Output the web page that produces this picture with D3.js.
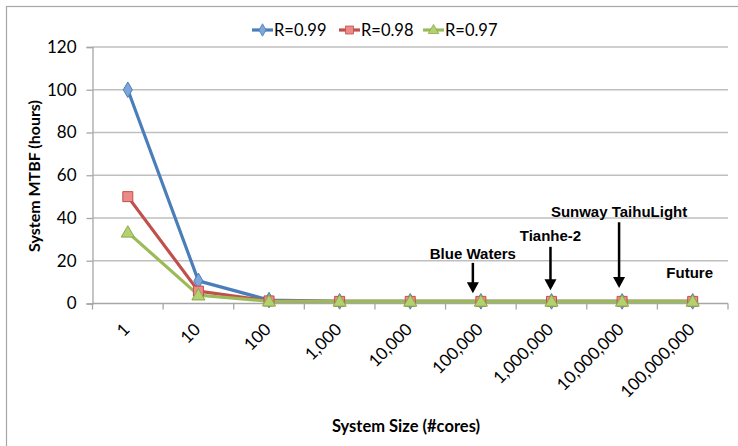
<!DOCTYPE html>
<html>
<head>
<meta charset="utf-8">
<script src="https://cdn.jsdelivr.net/npm/d3@7"></script>
<style>
  body { margin: 0; background: #fff; }
  svg { display: block; }
</style>
</head>
<body>
<svg id="chart" width="738" height="446"></svg>
<script>
// categories + series
const sizes = ['1', '10', '100', '1,000', '10,000', '100,000', '1,000,000', '10,000,000', '100,000,000'];
const r099 = [100, 10.6, 1.6, 1, 1, 1, 1, 1, 1];
const r098 = [50, 5.8, 1.2, 1, 1, 1, 1, 1, 1];
const r097 = [33.3, 3.9, 1.05, 1, 1, 1, 1, 1, 1];
const yTicks = [0, 20, 40, 60, 80, 100, 120];

// machines called out on the chart (category, label)
const callouts = [
  { cat: '100,000', label: 'Blue Waters', dx: -8, textY: 20.8, from: 19, to: 4.8 },
  { cat: '1,000,000', label: 'Tianhe-2', dx: -1, textY: 29.3, from: 26.5, to: 6.2 },
  { cat: '10,000,000', label: 'Sunway TaihuLight', dx: -3, textY: 40.6, from: 38, to: 7.2 },
  { cat: '100,000,000', label: 'Future', dx: -3, textY: 12 }
];

const series = [
  { name: 'R=0.99', values: r099, line: '#4a7ebb', fill: '#7fa6d8', stroke: '#4a7ebb', shape: 'diamond' },
  { name: 'R=0.98', values: r098, line: '#c0504d', fill: '#ec8a88', stroke: '#c0504d', shape: 'square' },
  { name: 'R=0.97', values: r097, line: '#9bbb59', fill: '#b3d26f', stroke: '#8aa84c', shape: 'triangle' }
];

const svg = d3.select('#chart');
const font = "Lato, 'Open Sans', sans-serif";
const bold = "'Liberation Sans', Arial, sans-serif";

// outer chart border (only top/left visible in the crop)
svg.append('rect')
  .attr('x', 6.5).attr('y', 6.5)
  .attr('width', 760).attr('height', 460)
  .attr('fill', 'none').attr('stroke', '#a6a6a6').attr('stroke-width', 1.2);

const plotL = 92.5, plotR = 728, plotT = 47, plotB = 303.5;

const x = d3.scaleBand().domain(sizes).range([plotL, plotR]);
const y = d3.scaleLinear().domain([0, 120]).range([plotB, plotT]);
const cx = d => x(d) + x.bandwidth() / 2;

// gridlines
svg.append('g').selectAll('line')
  .data(yTicks.filter(t => t > 0))
  .enter().append('line')
    .attr('x1', plotL).attr('x2', plotR)
    .attr('y1', d => y(d)).attr('y2', d => y(d))
    .attr('stroke', '#bfbfbf').attr('stroke-width', 1.3);

// y axis
const yAxis = svg.append('g')
  .attr('transform', `translate(${plotL},0)`)
  .call(d3.axisLeft(y).tickValues(yTicks).tickSize(6).tickPadding(10));
yAxis.select('.domain').attr('stroke', '#a6a6a6').attr('stroke-width', 1.3);
yAxis.selectAll('.tick line').attr('stroke', '#a6a6a6').attr('stroke-width', 1.3);
yAxis.selectAll('text')
  .attr('font-family', font).attr('font-size', '17px').attr('fill', '#000');

// x axis: ticks at band edges
const xg = svg.append('g');
xg.append('line')
  .attr('x1', plotL).attr('x2', plotR)
  .attr('y1', plotB).attr('y2', plotB)
  .attr('stroke', '#a6a6a6').attr('stroke-width', 1.3);
xg.selectAll('line.tk')
  .data(sizes.concat(['end']))
  .enter().append('line')
    .attr('class', 'tk')
    .attr('x1', (d, i) => plotL + i * x.step()).attr('x2', (d, i) => plotL + i * x.step())
    .attr('y1', plotB).attr('y2', plotB + 6)
    .attr('stroke', '#a6a6a6').attr('stroke-width', 1.3);
xg.selectAll('text')
  .data(sizes)
  .enter().append('text')
    .attr('transform', d => `translate(${cx(d) + 3},${plotB + 27}) rotate(-45)`)
    .attr('text-anchor', 'end')
    .attr('font-family', font).attr('font-size', '17px')
    .text(d => d);

// axis titles
svg.append('text')
  .attr('transform', `translate(40,176) rotate(-90)`)
  .attr('text-anchor', 'middle')
  .attr('font-family', font).attr('font-weight', 'bold').attr('font-size', '16px')
  .text('System MTBF (hours)');
svg.append('text')
  .attr('x', 406).attr('y', 432)
  .attr('text-anchor', 'middle')
  .attr('font-family', font).attr('font-weight', 'bold').attr('font-size', '16.5px')
  .text('System Size (#cores)');

// marker shapes
const sym = {
  diamond: d3.symbol().type(d3.symbolDiamond).size(70),
  square: d3.symbol().type(d3.symbolSquare).size(100),
  triangle: d3.symbol().type(d3.symbolTriangle).size(75)
};

const line = d3.line().x((d, i) => cx(sizes[i])).y(d => y(d));

series.forEach(s => {
  svg.append('path')
    .datum(s.values)
    .attr('d', line)
    .attr('fill', 'none')
    .attr('stroke', s.line).attr('stroke-width', 3.2)
    .attr('stroke-linejoin', 'round');
});
series.forEach(s => {
  svg.append('g').selectAll('path')
    .data(s.values)
    .enter().append('path')
      .attr('d', sym[s.shape])
      .attr('transform', (d, i) => `translate(${cx(sizes[i])},${y(d) + (s.shape === 'triangle' ? 1 : 0)})`)
      .attr('fill', s.fill).attr('stroke', s.stroke).attr('stroke-width', 1);
});

// legend
const legend = svg.append('g');
const legendX = [252, 339, 423];
series.forEach((s, i) => {
  const g = legend.append('g').attr('transform', `translate(${legendX[i]},30)`);
  g.append('line').attr('x1', 0).attr('x2', 21).attr('y1', 0).attr('y2', 0)
    .attr('stroke', s.line).attr('stroke-width', 3.2);
  g.append('path').attr('d', sym[s.shape]).attr('transform', `translate(10.5,${s.shape === 'triangle' ? 0.5 : 0}) scale(0.8)`)
    .attr('fill', s.fill).attr('stroke', s.stroke);
  g.append('text').attr('x', 22).attr('y', 6)
    .attr('font-family', font).attr('font-size', '16.5px')
    .text(s.name);
});

// callouts with arrows
const notes = svg.append('g');
callouts.forEach(c => {
  const ax = cx(c.cat) + c.dx;
  notes.append('text')
    .attr('x', ax).attr('y', y(c.textY))
    .attr('text-anchor', 'middle')
    .attr('font-family', bold).attr('font-weight', 'bold').attr('font-size', '15px')
    .text(c.label);
  if (c.from === undefined) return;
  const tip = y(c.to);
  notes.append('line')
    .attr('x1', ax).attr('x2', ax)
    .attr('y1', y(c.from)).attr('y2', tip - 8)
    .attr('stroke', '#000').attr('stroke-width', 2.5);
  notes.append('path')
    .attr('d', `M${ax - 6},${tip - 11}L${ax + 6},${tip - 11}L${ax},${tip}Z`)
    .attr('fill', '#000');
});
</script>
</body>
</html>
